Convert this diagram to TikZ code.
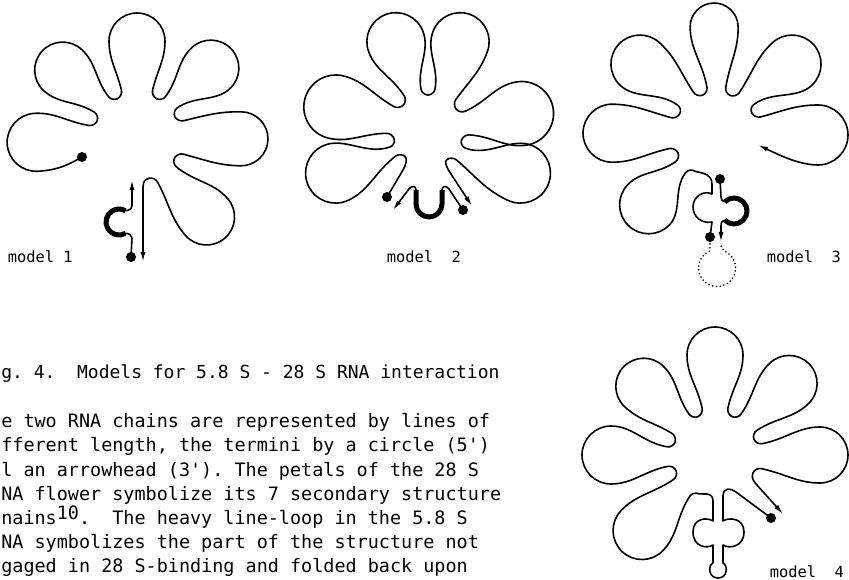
\documentclass[tikz,border=0pt]{standalone}
\usepackage{fontspec}
\setmonofont{DejaVu Sans Mono}
\usetikzlibrary{arrows.meta}
\newcommand\pcalc[5]{%
 \pgfmathsetmacro\Qpa{mod(#2-(#1)+900,360)-180}%
 \pgfmathsetmacro\Qpb{mod(#3-(#1)+900,360)-180}%
 \pgfmathsetmacro\Qha{\Qpa/2}%
 \pgfmathsetmacro\Qhb{\Qpb/2}%
 \pgfmathsetmacro\QR{#4}%
 \pgfmathsetmacro\Qr{#5}%
 \pgfmathsetmacro\Qc{#4-#5}%
 \pgfmathsetmacro\Qk{0.5523*#5}%
 \pgfmathsetmacro\Qku{0.55*\Quu}%
 \pgfmathsetmacro\Qvax{\Qrv*cos(\Qpa)}%
 \pgfmathsetmacro\Qvay{\Qrv*sin(\Qpa)}%
 \pgfmathsetmacro\Qnax{\Qvax+\Quu*cos(\Qpa+90)+\Quu*cos(\Qha)}%
 \pgfmathsetmacro\Qnay{\Qvay+\Quu*sin(\Qpa+90)+\Quu*sin(\Qha)}%
 \pgfmathsetmacro\Qvbx{\Qrv*cos(\Qpb)}%
 \pgfmathsetmacro\Qvby{\Qrv*sin(\Qpb)}%
 \pgfmathsetmacro\Qnbx{\Qvbx+\Quu*cos(\Qpb-90)+\Quu*cos(\Qhb)}%
 \pgfmathsetmacro\Qnby{\Qvby+\Quu*sin(\Qpb-90)+\Quu*sin(\Qhb)}%
 \pgfmathsetmacro\Qla{0.42*(\Qc-\Qnax)}%
 \pgfmathsetmacro\Qlb{0.38*(\Qc-\Qnax)}%
 \pgfmathsetmacro\Qlc{0.38*(\Qc-\Qnbx)}%
 \pgfmathsetmacro\Qld{0.42*(\Qc-\Qnbx)}%
 \pgfmathsetmacro\Qrot{0-#1}%
}
% full petal: valley -> petal -> valley
\newcommand\petal[5]{\pcalc{#1}{#2}{#3}{#4}{#5}%
 \draw[shift={(\Qcx,\Qcy)},rotate=\Qrot] (\Qvax,\Qvay) .. controls +(\Qpa+90:\Qku) and +(\Qha+180:\Qku) .. (\Qnax,\Qnay) .. controls +(\Qha:\Qla) and +(180:\Qlb) .. (\Qc,-\Qr) .. controls +(0:\Qk) and +(-90:\Qk) .. (\QR,0) .. controls +(90:\Qk) and +(0:\Qk) .. (\Qc,\Qr) .. controls +(180:\Qlc) and +(\Qhb:\Qld) .. (\Qnbx,\Qnby) .. controls +(\Qhb+180:\Qku) and +(\Qpb-90:\Qku) .. (\Qvbx,\Qvby);}
% petal starting at a named point (terminus)
\newcommand\petalS[8]{\pcalc{#1}{#2}{#3}{#4}{#5}%
 \pgfmathsetmacro\Qsh{#7-#1}%
 \draw[shift={(\Qcx,\Qcy)},rotate=\Qrot] (#6) .. controls +(\Qsh:#8) and +(180:\Qlb) .. (\Qc,-\Qr) .. controls +(0:\Qk) and +(-90:\Qk) .. (\QR,0) .. controls +(90:\Qk) and +(0:\Qk) .. (\Qc,\Qr) .. controls +(180:\Qlc) and +(\Qhb:\Qld) .. (\Qnbx,\Qnby) .. controls +(\Qhb+180:\Qku) and +(\Qpb-90:\Qku) .. (\Qvbx,\Qvby);}
% petal ending at a named point with an arrowhead
\newcommand\petalE[8]{\pcalc{#1}{#2}{#3}{#4}{#5}%
 \pgfmathsetmacro\Qeh{#7-#1+180}%
 \draw[arr,shift={(\Qcx,\Qcy)},rotate=\Qrot] (\Qvax,\Qvay) .. controls +(\Qpa+90:\Qku) and +(\Qha+180:\Qku) .. (\Qnax,\Qnay) .. controls +(\Qha:\Qla) and +(180:\Qlb) .. (\Qc,-\Qr) .. controls +(0:\Qk) and +(-90:\Qk) .. (\QR,0) .. controls +(90:\Qk) and +(0:\Qk) .. (\Qc,\Qr) .. controls +(180:\Qlc) and +(\Qeh:#8) .. (#6);}
\begin{document}
\begin{tikzpicture}[x=1pt,y=-1pt,line width=1.6pt,line cap=round,line join=round,
  heavy/.style={line width=5pt,line cap=butt},
  arr/.style={-{Latex[length=10pt,width=5pt]}},
  dotline/.style={line width=1.8pt,dash pattern=on 0pt off 3.8pt,line cap=round},
  term/.style={radius=5},
  captxt/.style={anchor=base west,inner sep=0pt,font=\ttfamily\fontsize{18.45}{20}\selectfont},
  lab/.style={anchor=base west,inner sep=0pt,font=\ttfamily\fontsize{15.4}{17}\selectfont}]
\useasboundingbox (0,0) rectangle (849,580);
\fill[white] (0,0) rectangle (849,580);
\clip (0,0) rectangle (849,580);
\frenchspacing
% ================= model 1 =================
\def\Qcx{137}\def\Qcy{137}\def\Qrv{43}\def\Quu{6}
\coordinate (m1s) at (82,157);
\fill (m1s) circle[term];
\petalS{177}{160}{202}{130}{29}{m1s}{150}{16}
\petal{222}{202}{243}{128}{28}
\petal{270}{243}{297}{124}{28}
\petal{317}{297}{332}{129}{28}
\petal{361}{332}{389}{131}{27}
\petal{409}{389}{434}{134}{28}
\coordinate (m1v) at (148.9,178.3);
\coordinate (m1e) at (143,262);
\draw[arr] (m1v) .. controls (145.7,179.2) and (143,181) .. (143,187) -- (m1e);
% 5.8 S
\coordinate (m1d) at (131,257);
\coordinate (m1a) at (132,180);
\fill (m1d) circle[term];
\draw (m1d) -- (132,238) .. controls (132,235) and (129,233.5) .. (125.5,233.3);
\draw[heavy] (125.5,233.3) arc[start angle=60,end angle=300,radius=13];
\draw[arr] (125.5,210.7) .. controls (129,210.5) and (132,209) .. (132,205) -- (m1a);
\node[lab] (l1) at (7,263) {model 1};
% ================= model 2 =================
\def\Qcx{428}\def\Qcy{130}\def\Qrv{35}\def\Quu{6}
\petal{155}{131}{165}{132}{30}
\petal{194}{165}{225}{127}{32}
\petal{250}{225}{270}{123}{29}
\petal{290}{270}{323}{123}{29}
\petal{350}{323}{377}{127}{32}
\petal{385}{377}{417}{132}{30}
\coordinate (m2d) at (387,197);
\fill (m2d) circle[term];
\draw (m2d) -- (403,170) .. controls (406,165) and (407.5,158.6) .. (405.04,156.42);
\draw[arr] (447.06,159.35) .. controls (444.3,161.15) and (446,166) .. (449,171) -- (472,206);
\draw[heavy] (416,190) -- (416,204) arc[start angle=180,end angle=0,radius=13] -- (442,190);
\draw[arr] (416,190) .. controls (416,186) and (412,185) .. (409,189) -- (393,210);
\coordinate (m2f) at (463,210);
\draw (442,190) .. controls (442,186) and (446,185) .. (449,189) -- (m2f);
\fill (m2f) circle[term];
\node[lab] (l2) at (386,262) {model\ \ 2};
% ================= model 3 =================
\def\Qcx{716}\def\Qcy{135}\def\Qrv{42}\def\Quu{6}
\petal{134}{121}{155}{126}{29}
\petal{181}{155}{210}{133}{29}
\petal{223}{210}{251}{133}{29}
\petal{269}{251}{290}{132}{24}
\petal{317}{290}{329}{133}{29}
\coordinate (m3e) at (758,145);
\petalE{360}{329}{373}{132}{30}{m3e}{205}{18}
\coordinate (m3d) at (710,237);
\fill (m3d) circle[term];
\draw (m3d) -- (712,222) .. controls (702,224) and (693,217) .. (693,207) .. controls (693,196) and (704,190) .. (712,194) -- (712,184) .. controls (712,172) and (697.2,172.7) .. (694.37,171.0);
\coordinate (m3t) at (720,179);
\fill (m3t) circle[term];
\draw (m3t) -- (721,197) .. controls (721,200) and (722.5,201.5) .. (724.8,201.8);
\draw[heavy] (724.8,201.8) arc[start angle=-135,end angle=135,radius=13];
\draw[arr] (724.8,220.2) .. controls (722.5,220.5) and (721,222) .. (721,226) -- (721,242);
\draw[dotline] (710,244) -- (709.8,251) arc[start angle=247,end angle=-67,radius=18.5] -- (721,246);
\node[lab] (l3) at (766,263) {model\ \ 3};
% ================= model 4 =================
\def\Qcx{715}\def\Qcy{455}\def\Qrv{42}\def\Quu{6}
\petal{134}{113}{158}{134}{29}
\petal{180}{158}{198}{133}{29}
\petal{224}{198}{246}{127}{28}
\petal{270}{246}{294}{128}{28}
\petal{316}{294}{338}{131}{28}
\petal{360}{338}{385}{133}{28}
\coordinate (m4d) at (771,518);
\fill (m4d) circle[term];
\draw (m4d) -- (736,492) .. controls (731,488) and (723,487) .. (723,496) -- (723,521)
  .. controls (729,517) and (744,518) .. (744,532) .. controls (744,547) and (729,549) .. (723,545) -- (723,563)
  .. controls (728,565) and (728,578) .. (718,578) .. controls (708,578) and (708,565) .. (713,563) -- (713,545)
  .. controls (707,549) and (693,547) .. (693,532) .. controls (693,518) and (707,517) .. (713,521) -- (713,501)
  .. controls (713,491) and (701.6,494.95) .. (698.59,493.66);
\draw[arr] (753.07,472.75) .. controls (751.7,475.7) and (752,480) .. (756,484) -- (783,514);
\node[lab] (l4) at (769,577) {model\ \ 4};
% ================= caption =================
\node[captxt,font=\ttfamily\fontsize{17.99}{20}\selectfont] (t1) at (0.5,378) {g. 4.\ \ Models for 5.8 S - 28 S RNA interaction};
\node[captxt] (t2) at (0.5,427) {e two RNA chains are represented by lines of};
\node[captxt] (t3) at (0.5,451.5) {fferent length, the termini by a circle (5')};
\node[captxt] (t4) at (0.5,476) {l an arrowhead (3'). The petals of the 28 S};
\node[captxt] (t5) at (0.5,500) {NA flower symbolize its 7 secondary structure};
\node[captxt] (t6) at (0.5,524) {nains\raisebox{5pt}{10}.\ \ The heavy line-loop in the 5.8 S};
\node[captxt] (t7) at (0.5,548) {NA symbolizes the part of the structure not};
\node[captxt] (t8) at (0.5,572) {gaged in 28 S-binding and folded back upon};
\end{tikzpicture}
\end{document}
